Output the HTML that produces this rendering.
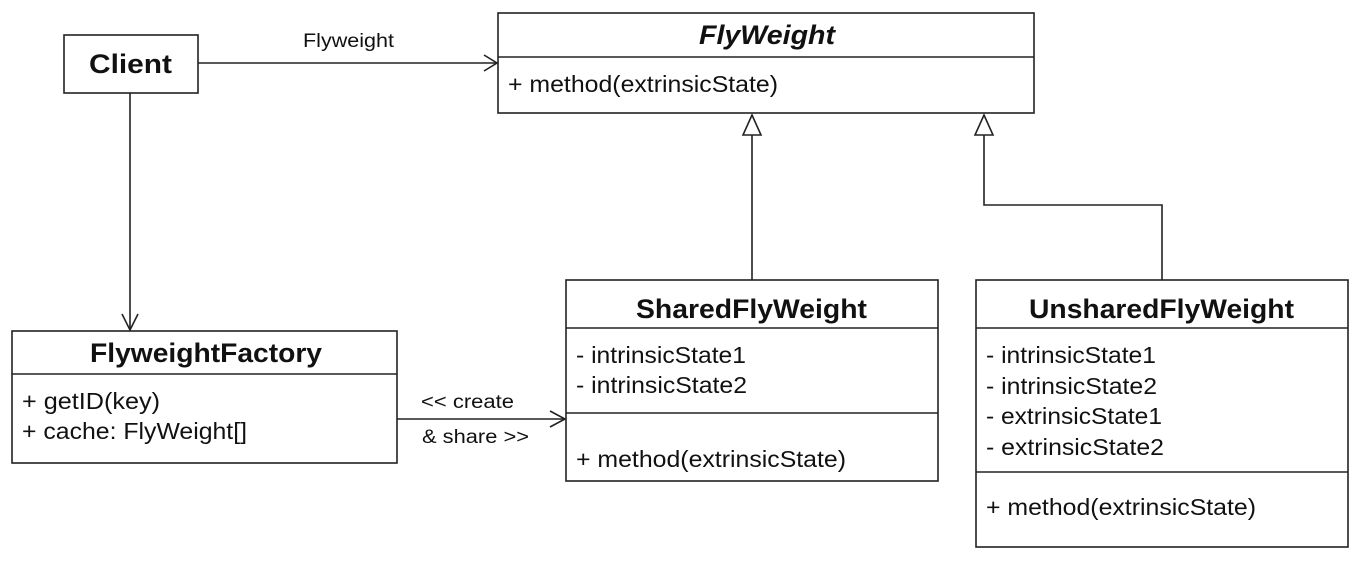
<!DOCTYPE html>
<html><head><style>
html,body{margin:0;padding:0;background:#fff;}
svg{display:block;}
text{font-family:"Liberation Sans",sans-serif;fill:#111;}
.t{font-size:23px;}
.b{font-size:27px;font-weight:bold;}
.s{font-size:19px;}
</style></head><body>
<svg width="1370" height="569" viewBox="0 0 1370 569" xmlns="http://www.w3.org/2000/svg">
<g fill="#fff" stroke="#222" stroke-width="1.6">
<rect x="64" y="35" width="134" height="58"/>
<rect x="498" y="13" width="536" height="100"/>
<rect x="12" y="331" width="385" height="132"/>
<rect x="566" y="280" width="372" height="201"/>
<rect x="976" y="280" width="372" height="267"/>
</g>
<g stroke="#222" stroke-width="1.6" fill="none">
<line x1="498" y1="57" x2="1034" y2="57"/>
<line x1="12" y1="374" x2="397" y2="374"/>
<line x1="566" y1="328" x2="938" y2="328"/>
<line x1="566" y1="413" x2="938" y2="413"/>
<line x1="976" y1="328" x2="1348" y2="328"/>
<line x1="976" y1="472" x2="1348" y2="472"/>
<line x1="198" y1="63" x2="497" y2="63"/>
<polyline points="484,55 497,63 484,71"/>
<line x1="130" y1="93" x2="130" y2="330"/>
<polyline points="122,314 130,330 138,314"/>
<line x1="397" y1="419" x2="565" y2="419"/>
<polyline points="550,411 565,419 550,427"/>
<line x1="752" y1="135" x2="752" y2="280"/>
<polyline points="984,135 984,205 1162,205 1162,280"/>
<polygon points="752,115 743,135 761,135"/>
<polygon points="984,115 975,135 993,135"/>
</g>
<g lengthAdjust="spacingAndGlyphs">
<text class="b" x="89" y="73" textLength="83" lengthAdjust="spacingAndGlyphs">Client</text>
<text class="s" x="303" y="47" textLength="91" lengthAdjust="spacingAndGlyphs">Flyweight</text>
<text class="b" x="699" y="44" textLength="136" lengthAdjust="spacingAndGlyphs" font-style="italic">FlyWeight</text>
<text class="t" x="508" y="92" textLength="270" lengthAdjust="spacingAndGlyphs">+ method(extrinsicState)</text>
<text class="b" x="90" y="362" textLength="232" lengthAdjust="spacingAndGlyphs">FlyweightFactory</text>
<text class="t" x="22" y="409" textLength="138" lengthAdjust="spacingAndGlyphs">+ getID(key)</text>
<text class="t" x="22" y="439" textLength="225" lengthAdjust="spacingAndGlyphs">+ cache: FlyWeight[]</text>
<text class="s" x="421" y="408" textLength="93" lengthAdjust="spacingAndGlyphs">&lt;&lt; create</text>
<text class="s" x="422" y="443" textLength="107" lengthAdjust="spacingAndGlyphs">&amp; share &gt;&gt;</text>
<text class="b" x="636" y="318" textLength="231" lengthAdjust="spacingAndGlyphs">SharedFlyWeight</text>
<text class="t" x="576" y="363" textLength="170" lengthAdjust="spacingAndGlyphs">- intrinsicState1</text>
<text class="t" x="576" y="393" textLength="171" lengthAdjust="spacingAndGlyphs">- intrinsicState2</text>
<text class="t" x="576" y="467" textLength="270" lengthAdjust="spacingAndGlyphs">+ method(extrinsicState)</text>
<text class="b" x="1029" y="318" textLength="265" lengthAdjust="spacingAndGlyphs">UnsharedFlyWeight</text>
<text class="t" x="986" y="363" textLength="170" lengthAdjust="spacingAndGlyphs">- intrinsicState1</text>
<text class="t" x="986" y="394" textLength="171" lengthAdjust="spacingAndGlyphs">- intrinsicState2</text>
<text class="t" x="986" y="424" textLength="176" lengthAdjust="spacingAndGlyphs">- extrinsicState1</text>
<text class="t" x="986" y="455" textLength="178" lengthAdjust="spacingAndGlyphs">- extrinsicState2</text>
<text class="t" x="986" y="515" textLength="270" lengthAdjust="spacingAndGlyphs">+ method(extrinsicState)</text>
</g>
</svg>
</body></html>
